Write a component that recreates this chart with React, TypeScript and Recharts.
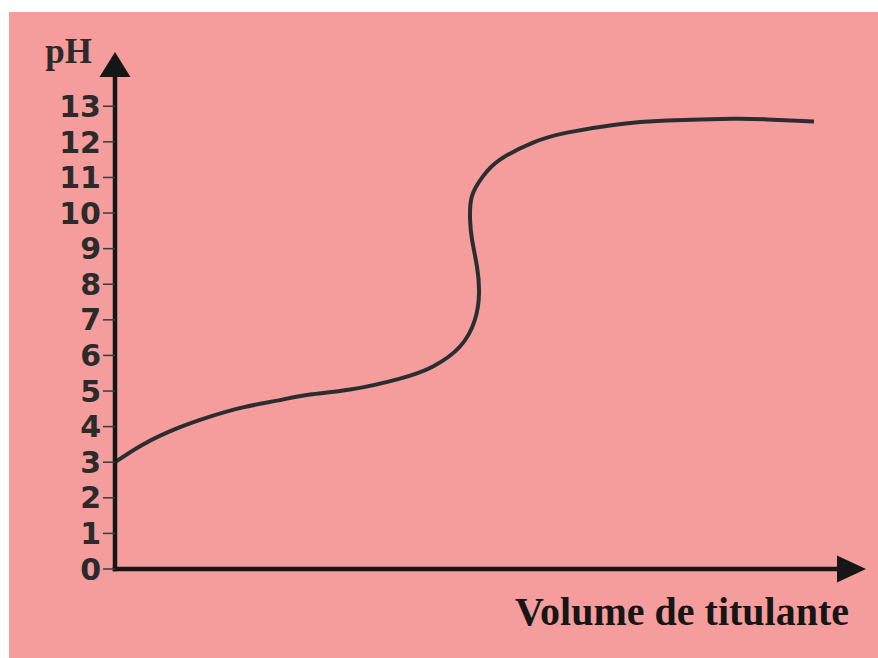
import { Line, LineChart, ReferenceDot, XAxis, YAxis } from "recharts"

const VOLUME = [0, 1.87, 4.13, 6.33, 8.53, 10.8, 13, 15.67, 19, 21.2, 23, 24, 24.27, 24.13, 23.8, 23.67, 23.8, 24.53, 25.67, 27.87, 30.13, 33.47, 36.8, 41.2, 43.47, 46.6]
const PH = [3.0, 3.5, 3.95, 4.28, 4.54, 4.73, 4.9, 5.04, 5.35, 5.69, 6.25, 7.01, 7.77, 8.5, 9.26, 9.83, 10.48, 11.03, 11.5, 11.98, 12.26, 12.49, 12.6, 12.65, 12.63, 12.57]
const PH_TICKS = [0, 1, 2, 3, 4, 5, 6, 7, 8, 9, 10, 11, 12, 13]

const X_MAX = 48.2
const Y_MAX = 13.85

const BG = "#F59D9C"
const INK = "#161616"
const CURVE = "#2b2e31"
const TEXT = "#2b2b2b"

const data = VOLUME.map((v, i) => ({ v, ph: PH[i] }))

function RightArrow(props: any) {
  const { cx, cy } = props
  return <path d={`M${cx - 1},${cy - 13.5} L${cx + 28},${cy} L${cx - 1},${cy + 13.5} Z`} fill={INK} />
}

function UpArrow(props: any) {
  const { cx, cy } = props
  return <path d={`M${cx - 15.5},${cy + 1} L${cx},${cy - 24} L${cx + 15.5},${cy + 1} Z`} fill={INK} />
}

function XLabel(props: any) {
  const vb = props.viewBox
  return (
    <text
      x={vb.x + vb.width + 11}
      y={vb.y + 56}
      textAnchor="end"
      fill={INK}
      fontSize={40}
      fontWeight="bold"
      fontFamily="'Liberation Serif', 'Times New Roman', serif"
    >
      Volume de titulante
    </text>
  )
}

function YLabel(props: any) {
  const vb = props.viewBox
  return (
    <text
      x={vb.x + vb.width - 23}
      y={vb.y - 13}
      textAnchor="end"
      fill={TEXT}
      fontSize={35}
      fontWeight="bold"
      fontFamily="'Liberation Serif', 'Times New Roman', serif"
    >
      pH
    </text>
  )
}

export default function App() {
  return (
    <div style={{ position: "absolute", left: 0, top: 0, width: 878, height: 658, background: "#fff" }}>
      <div style={{ position: "absolute", left: 9, top: 12, right: 0, bottom: 0, background: BG }} />
      <div style={{ position: "absolute", left: 0, top: 0 }}>
        <LineChart width={878} height={658} data={data} margin={{ top: 76, right: 40, bottom: 29, left: 15 }}>
          <XAxis
            dataKey="v"
            type="number"
            domain={[0, X_MAX]}
            ticks={[]}
            tick={false}
            tickLine={false}
            height={60}
            axisLine={{ stroke: INK, strokeWidth: 4.5, strokeLinecap: "square" }}
            label={{ content: XLabel }}
          />
          <YAxis
            type="number"
            domain={[0, Y_MAX]}
            ticks={PH_TICKS}
            interval={0}
            width={100}
            tickSize={12}
            tickLine={{ stroke: "#3a3a3a", strokeWidth: 1.5 }}
            axisLine={{ stroke: INK, strokeWidth: 4.5, strokeLinecap: "square" }}
            tick={{ fill: TEXT, fontSize: 30, fontWeight: "bold", fontFamily: "'DejaVu Sans', sans-serif" }}
            label={{ content: YLabel }}
          />
          <Line
            dataKey="ph"
            type="natural"
            stroke={CURVE}
            strokeWidth={4}
            dot={false}
            activeDot={false}
            isAnimationActive={false}
          />
          <ReferenceDot x={X_MAX} y={0} ifOverflow="visible" shape={RightArrow} />
          <ReferenceDot x={0} y={Y_MAX} ifOverflow="visible" shape={UpArrow} />
        </LineChart>
      </div>
    </div>
  )
}
